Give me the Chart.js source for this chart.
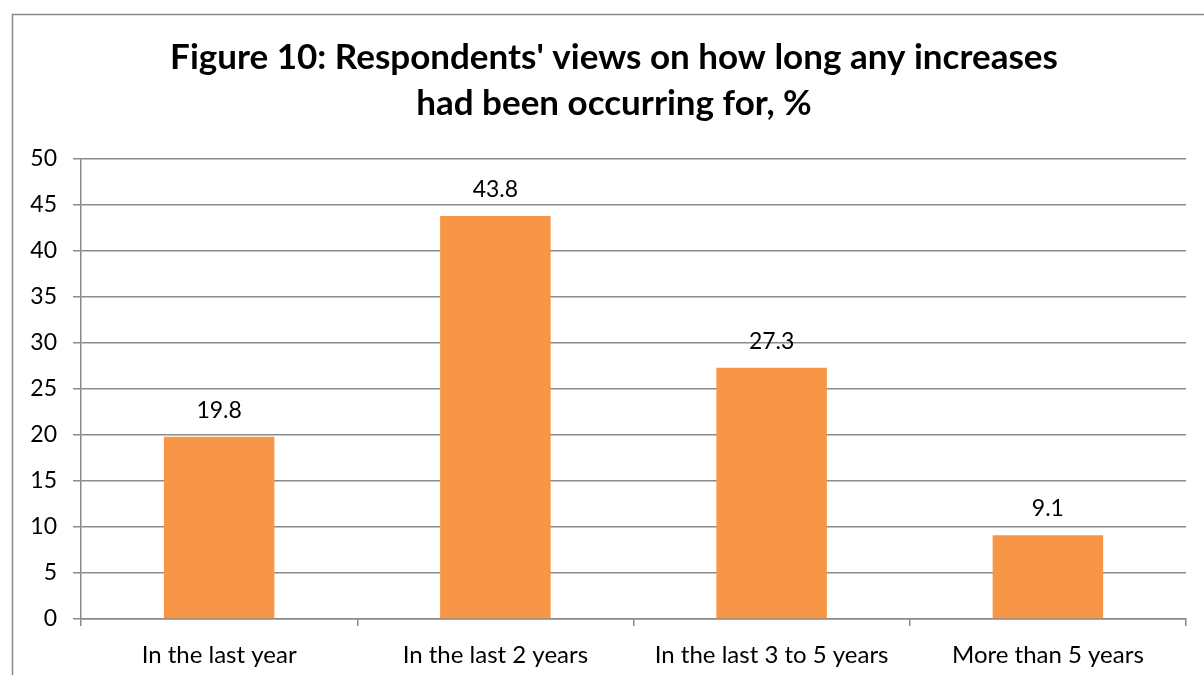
<!DOCTYPE html>
<html>
<head>
<meta charset="utf-8">
<script src="https://cdn.jsdelivr.net/npm/chart.js@4"></script>
<style>
  html, body { margin: 0; padding: 0; background: #fff; }
  #wrap { width: 1204px; height: 675px; position: relative; }
</style>
</head>
<body>
<div id="wrap"><canvas id="myChart" width="1204" height="675"></canvas></div>
<script>
const categories = ["In the last year", "In the last 2 years", "In the last 3 to 5 years", "More than 5 years"];
const values = [19.8, 43.8, 27.3, 9.1];
const titleLines = ["Figure 10: Respondents' views on how long any increases", "had been occurring for, %"];
const fontFamily = "Lato, 'Open Sans', sans-serif";

// frame + title + value labels
const extras = {
  id: "extras",
  beforeDraw(chart) {
    const c = chart.ctx;
    c.save();
    c.strokeStyle = "#8a8a8a";
    c.lineWidth = 1.5;
    c.strokeRect(12.5, 14.5, 1220, 700);
    c.restore();
  },
  afterDraw(chart) {
    const c = chart.ctx;
    c.save();
    c.fillStyle = "#000";
    c.textAlign = "center";
    c.textBaseline = "middle";
    c.font = "bold 35px " + fontFamily;
    c.fillText(titleLines[0], 614, 58);
    c.fillText(titleLines[1], 614, 104);

    c.font = "23px " + fontFamily;
    c.textBaseline = "alphabetic";
    const meta = chart.getDatasetMeta(0);
    meta.data.forEach((bar, i) => {
      c.fillText(values[i].toFixed(1), bar.x, bar.y - 19);
    });
    c.restore();
  }
};

const ctx = document.getElementById("myChart");

new Chart(ctx, {
  type: "bar",
  data: {
    labels: categories,
    datasets: [
      {
        data: values,
        backgroundColor: "#F79646",
        borderWidth: 0,
        barPercentage: 0.4,
        categoryPercentage: 1,
      },
    ],
  },
  options: {
    responsive: false,
    animation: false,
    layout: { padding: { top: 159, right: 18, bottom: 0, left: 0 } },
    plugins: {
      legend: { display: false },
      title: { display: false },
      tooltip: { enabled: false },
    },
    scales: {
      y: {
        min: 0,
        max: 50,
        afterFit: (s) => { s.width = 81; },
        ticks: {
          stepSize: 5,
          padding: 16,
          color: "#000",
          font: { family: fontFamily, size: 23 },
        },
        grid: { color: "#8a8a8a", lineWidth: 1.5, tickLength: 8 },
        border: { color: "#8a8a8a", width: 1.5 },
      },
      x: {
        afterFit: (s) => { s.height = 56; },
        ticks: {
          padding: 15,
          color: "#000",
          font: { family: fontFamily, size: 24 },
        },
        grid: { drawOnChartArea: false, drawTicks: true, tickLength: 7, color: "#8a8a8a", lineWidth: 1.5, offset: true },
        border: { color: "#8a8a8a", width: 1.5 },
      },
    },
  },
  plugins: [extras],
});
</script>
</body>
</html>
